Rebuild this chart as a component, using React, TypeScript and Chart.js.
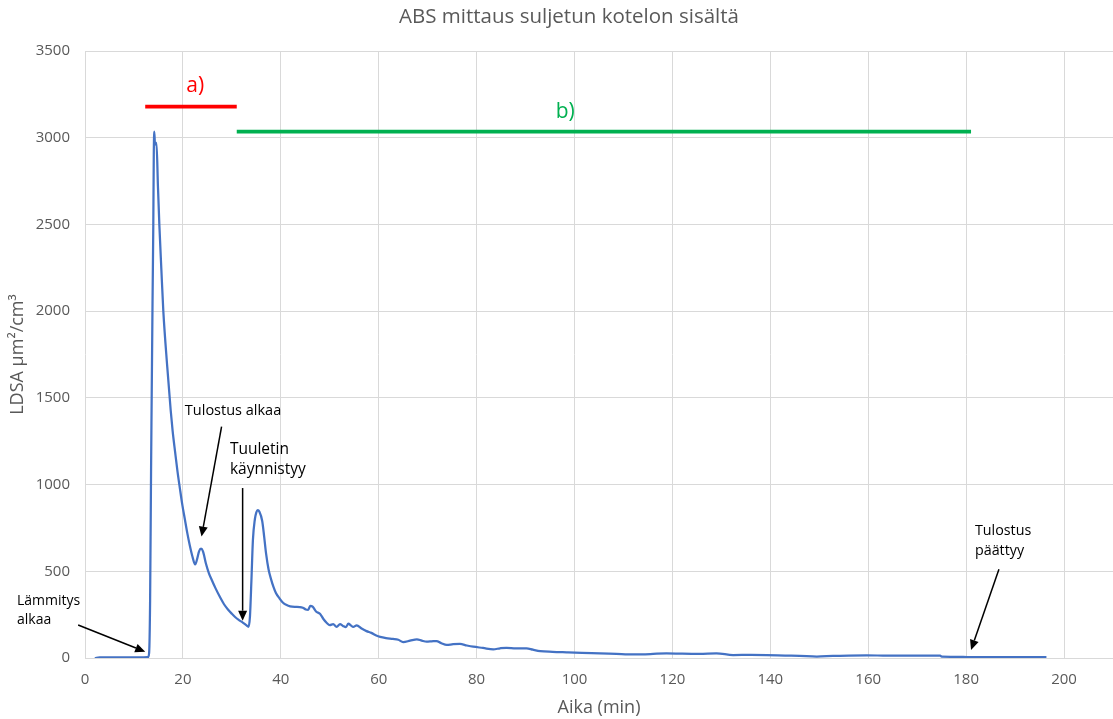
import React, { useEffect, useRef } from "react";
import { Chart, registerables } from "chart.js";

Chart.register(...registerables);

// ---- Data ----
const timeMin = [
  2, 3, 5, 8, 10, 12, 12.9, 13.1, 13.3, 13.5, 13.6, 13.8, 13.95, 14.05, 14.15, 14.3, 14.6, 14.9, 15.2, 15.6,
  16.0, 16.8, 17.5, 17.9, 18.4, 18.9, 19.4, 19.9, 20.4, 20.9, 21.4, 21.9, 22.5, 22.9, 23.3, 23.7, 24.1, 24.7,
  25.3, 25.9, 26.7, 27.6, 28.4, 29.2, 30.0, 30.6, 31.4, 32.3, 33.0, 33.4, 33.7, 34.0, 34.3, 34.7, 35.0, 35.3,
  35.6, 36.2, 36.6, 37.0, 37.5, 38.0, 38.5, 39.0, 39.7, 40.4, 41.2, 41.9, 42.9, 43.9, 44.5, 45.1, 45.6, 46.0,
  46.5, 47.2, 48.0, 48.7, 49.4, 50.0, 50.7, 51.4, 52.1, 52.7, 53.3, 53.8, 54.3, 54.8, 55.5, 56.5, 57.5, 58.5,
  59.5, 60.3, 61.5, 62.9, 64.0, 65.0, 66.4, 67.8, 68.8, 69.8, 70.8, 71.8, 72.8, 73.9, 75.2, 76.6, 78.0, 79.3,
  81.3, 83.4, 84.8, 86.1, 88.0, 90.2, 91.5, 93.0, 95.5, 98.4, 101.5, 105.2, 108.5, 112.0, 115.5, 118.8, 122.0,
  125.5, 129.0, 132.4, 136.0, 139.3, 143.0, 146.0, 149.5, 152.8, 156.0, 159.7, 163.0, 166.5, 170.0, 174.7,
  175.0, 178.0, 180.8, 185.0, 190.0, 196.4,
];

const ldsa = [
  0, 3, 3, 3, 4, 4, 5, 30, 330, 1100, 1430, 2065, 2490, 2900, 3035, 2960, 2970, 2720, 2490, 2240,
  2000, 1680, 1430, 1310, 1190, 1075, 975, 880, 800, 720, 650, 590, 540, 570, 615, 630, 615, 545,
  490, 450, 400, 350, 310, 280, 255, 238, 220, 203, 188, 180, 240, 450, 680, 800, 840, 853,
  845, 790, 700, 600, 510, 455, 410, 375, 345, 320, 305, 298, 295, 294, 290, 280, 278, 300,
  296, 268, 255, 225, 202, 190, 195, 180, 195, 185, 178, 198, 188, 179, 188, 170, 155, 145,
  130, 122, 115, 110, 105, 92, 100, 108, 100, 94, 96, 98, 85, 75, 80, 81, 72, 65,
  58, 50, 56, 59, 56, 56, 48, 40, 36, 33, 30, 27, 24, 21, 23, 27, 25,
  24, 27, 17, 18, 17, 14, 12, 8, 12, 14, 15, 14, 13, 13, 13,
  8, 7, 5, 5, 5, 5,
];

const chartTitle = "ABS mittaus suljetun kotelon sisältä";

// Period markers a) and b)
const periodLabels = ["a)", "b)"];
const periodFrom = [12.3, 31.0];
const periodTo = [31.0, 181.0];
const periodLevel = [3179, 3035];
const periodLabelX = [22.5, 98.1];
const periodLabelY = [3299, 3149];
const periodColors = ["#FF0000", "#00B050"];

// Arrow notes (data coordinates)
const noteLines = [["Lämmitys", "alkaa"], ["Tulostus alkaa"], ["Tuuletin", "käynnistyy"], ["Tulostus", "päättyy"]];
const noteX = [-13.9, 20.4, 29.6, 181.8];
const noteY = [329, 1424, 1200, 732];
const noteFontSize = [14, 14.5, 15.5, 14.3];
const arrowFromX = [-1.4, 27.9, 32.2, 186.7];
const arrowFromY = [190, 1334, 980, 512];
const arrowToX = [12.3, 23.8, 32.2, 181.0];
const arrowToY = [36, 700, 215, 46];

const FONT = "'Open Sans', sans-serif";

const notesPlugin = {
  id: "notes",
  afterDatasetsDraw(chart: any) {
    const { ctx, scales } = chart;
    const xs = scales.x;
    const ys = scales.y;
    ctx.save();
    // title (centred as in the reference)
    ctx.fillStyle = "#595959";
    ctx.font = `20.5px ${FONT}`;
    ctx.textAlign = "center";
    ctx.textBaseline = "middle";
    ctx.fillText(chartTitle, (xs.left + xs.right) / 2 - 30, 17);
    // period bars
    for (let i = 0; i < periodLabels.length; i++) {
      ctx.strokeStyle = periodColors[i];
      ctx.lineWidth = 3.6;
      ctx.lineCap = "butt";
      ctx.beginPath();
      ctx.moveTo(xs.getPixelForValue(periodFrom[i]), ys.getPixelForValue(periodLevel[i]));
      ctx.lineTo(xs.getPixelForValue(periodTo[i]), ys.getPixelForValue(periodLevel[i]));
      ctx.stroke();
      ctx.fillStyle = periodColors[i];
      ctx.font = `21px ${FONT}`;
      ctx.textAlign = "center";
      ctx.textBaseline = "middle";
      ctx.fillText(periodLabels[i], xs.getPixelForValue(periodLabelX[i]), ys.getPixelForValue(periodLabelY[i]));
    }
    // notes
    for (let i = 0; i < noteLines.length; i++) {
      ctx.fillStyle = "#000000";
      ctx.font = `${noteFontSize[i]}px ${FONT}`;
      ctx.textAlign = "left";
      ctx.textBaseline = "middle";
      const px = xs.getPixelForValue(noteX[i]);
      const py = ys.getPixelForValue(noteY[i]);
      noteLines[i].forEach((t, k) => ctx.fillText(t, px, py + k * 19.5));
      // arrow
      const x1 = xs.getPixelForValue(arrowFromX[i]);
      const y1 = ys.getPixelForValue(arrowFromY[i]);
      const x2 = xs.getPixelForValue(arrowToX[i]);
      const y2 = ys.getPixelForValue(arrowToY[i]);
      const ang = Math.atan2(y2 - y1, x2 - x1);
      const head = 10;
      const hw = 4.5;
      const bx = x2 - head * Math.cos(ang);
      const by = y2 - head * Math.sin(ang);
      ctx.strokeStyle = "#000000";
      ctx.lineWidth = 1.5;
      ctx.beginPath();
      ctx.moveTo(x1, y1);
      ctx.lineTo(bx, by);
      ctx.stroke();
      ctx.beginPath();
      ctx.moveTo(x2, y2);
      ctx.lineTo(bx + hw * Math.sin(ang), by - hw * Math.cos(ang));
      ctx.lineTo(bx - hw * Math.sin(ang), by + hw * Math.cos(ang));
      ctx.closePath();
      ctx.fillStyle = "#000000";
      ctx.fill();
    }
    ctx.restore();
  },
};

export default function App() {
  const ref = useRef<HTMLCanvasElement>(null);
  useEffect(() => {
    const chart = new Chart(ref.current as HTMLCanvasElement, {
      type: "line",
      data: {
        datasets: [
          {
            data: timeMin.map((t, i) => ({ x: t, y: ldsa[i] })),
            borderColor: "#4472C4",
            borderWidth: 2.25,
            pointRadius: 0,
            fill: false,
            cubicInterpolationMode: "monotone",
          },
        ],
      },
      options: {
        animation: false,
        responsive: true,
        maintainAspectRatio: false,
        layout: { padding: { left: 0, right: 0, top: 51, bottom: 0 } },
        plugins: {
          legend: { display: false },
          tooltip: { enabled: false },
          title: { display: false },
        },
        scales: {
          x: {
            type: "linear",
            min: 0,
            max: 210,
            border: { display: false },
            grid: { color: "#d9d9d9", lineWidth: 1, drawTicks: false },
            ticks: {
              stepSize: 20,
              includeBounds: false,
              color: "#595959",
              padding: 13,
              font: { family: FONT, size: 15 },
              callback: (v: any) => String(v),
            },
            title: {
              display: true,
              text: "Aika (min)",
              color: "#595959",
              font: { family: FONT, size: 18 },
              padding: { top: 0, bottom: 0.5 },
            },
            afterFit(scale: any) {
              scale.height = 61;
            },
          },
          y: {
            min: 0,
            max: 3500,
            border: { display: false },
            grid: { color: "#d9d9d9", lineWidth: 1, drawTicks: false },
            ticks: {
              stepSize: 500,
              color: "#595959",
              padding: 15,
              font: { family: FONT, size: 15 },
              callback: (v: any) => String(v),
            },
            title: {
              display: true,
              text: "LDSA µm²/cm³",
              color: "#595959",
              font: { family: FONT, size: 18 },
              padding: { top: 7.5, bottom: 0 },
            },
            afterFit(scale: any) {
              scale.width = 85;
            },
          },
        },
      } as any,
      plugins: [notesPlugin],
    });
    return () => chart.destroy();
  }, []);
  return (
    <div style={{ position: "fixed", left: 0, top: 0, width: 1113, height: 719, background: "#ffffff" }}>
      <canvas ref={ref} />
    </div>
  );
}
